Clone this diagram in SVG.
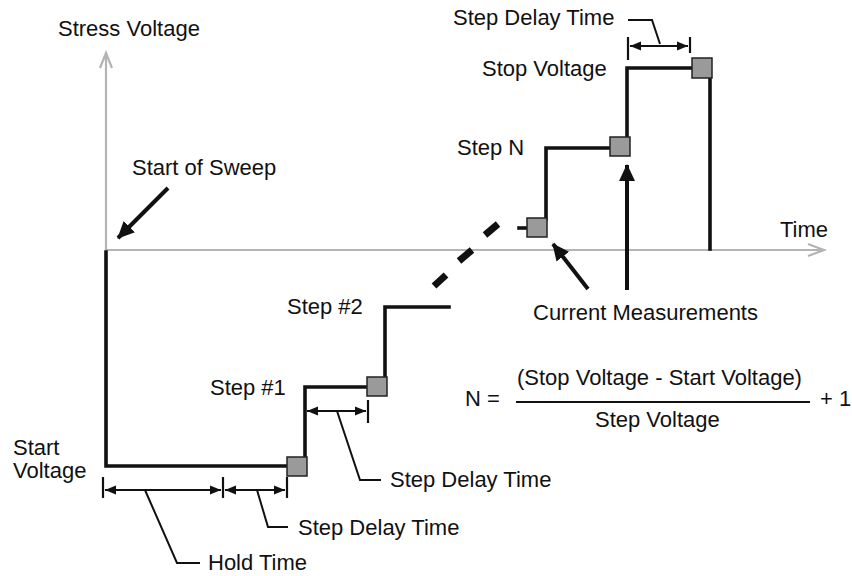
<svg xmlns="http://www.w3.org/2000/svg" width="852" height="576" viewBox="0 0 852 576">
<style>
text{font-family:"Liberation Sans",Arial,sans-serif;font-size:22px;fill:#111}
.axis{stroke:#b4b4b4;stroke-width:2.2;fill:none}
.trace{stroke:#111;stroke-width:3.6;fill:none;stroke-linecap:square}
.meas{fill:#9a9a9a;stroke:#222;stroke-width:1.5}
.dim{stroke:#111;stroke-width:2;fill:none}
.tick{stroke:#111;stroke-width:2.2}
.lead{stroke:#111;stroke-width:2;fill:none}
.big{stroke:#111;stroke-width:4;fill:none}
</style>
<defs>
<marker id="ah" markerUnits="userSpaceOnUse" markerWidth="12" markerHeight="10" refX="11" refY="5" orient="auto-start-reverse"><path d="M0,0.5 L11,5 L0,9.5 z" fill="#111"/></marker>
<marker id="bh" markerUnits="userSpaceOnUse" markerWidth="18" markerHeight="16" refX="16" refY="8" orient="auto"><path d="M0,0 L17,8 L0,16 z" fill="#111"/></marker>
</defs>
<g id="axes">
<line class="axis" x1="106" y1="250" x2="106" y2="55"/>
<polyline class="axis" points="100,68 106,53 112,68" stroke-width="1.6"/>
<line class="axis" x1="106" y1="250" x2="822" y2="250"/>
<polyline class="axis" points="808,244 824,250 808,256" stroke-width="1.6"/>
<text x="58" y="36">Stress Voltage</text>
<text x="780" y="237">Time</text>
</g>
<g id="trace">
<polyline class="trace" points="106,252 106,466 288,466"/>
<polyline class="trace" points="305,458 305,387 368,387"/>
<polyline class="trace" points="385,378 385,307 449,307"/>
<line class="trace" x1="519" y1="228" x2="526" y2="228"/>
<polyline class="trace" points="546,219 546,148 611,148"/>
<polyline class="trace" points="627,138 627,68 693,68"/>
<line class="trace" x1="710" y1="78" x2="710" y2="249"/>
<g stroke="#111" stroke-width="7">
<line x1="434" y1="286" x2="446" y2="275"/>
<line x1="459" y1="261" x2="472" y2="250"/>
<line x1="485" y1="235" x2="498" y2="224"/>
</g>
</g>
<g id="measurements">
<rect class="meas" x="287" y="457" width="20" height="19"/>
<rect class="meas" x="367" y="377" width="20" height="19"/>
<rect class="meas" x="527" y="218" width="20" height="19"/>
<rect class="meas" x="610" y="137" width="20" height="19"/>
<rect class="meas" x="692" y="58" width="20" height="20"/>
</g>
<g id="start-of-sweep">
<text x="132" y="175">Start of Sweep</text>
<line class="big" x1="168" y1="188" x2="118" y2="238" marker-end="url(#bh)"/>
</g>
<g id="current-measurements">
<text x="533" y="320">Current Measurements</text>
<line class="big" x1="588" y1="289" x2="553" y2="244" marker-end="url(#bh)"/>
<line class="big" x1="627" y1="290" x2="627" y2="165" marker-end="url(#bh)"/>
</g>
<g id="labels">
<text x="482" y="76">Stop Voltage</text>
<text x="457" y="155">Step N</text>
<text x="287" y="314">Step #2</text>
<text x="210" y="395">Step #1</text>
<text x="13" y="455">Start</text>
<text x="13" y="478">Voltage</text>
</g>
<g id="hold-time">
<line class="tick" x1="103" y1="477" x2="103" y2="498"/>
<line class="tick" x1="223" y1="477" x2="223" y2="498"/>
<line class="dim" x1="105" y1="490" x2="221" y2="490" marker-start="url(#ah)" marker-end="url(#ah)"/>
<polyline class="lead" points="145,490 177,563 200,563"/>
<text x="208" y="570">Hold Time</text>
</g>
<g id="step-delay-1">
<line class="tick" x1="287" y1="477" x2="287" y2="498"/>
<line class="dim" x1="225" y1="490" x2="285" y2="490" marker-start="url(#ah)" marker-end="url(#ah)"/>
<polyline class="lead" points="257,490 268,527 288,527"/>
<text x="298" y="535">Step Delay Time</text>
</g>
<g id="step-delay-2">
<line class="tick" x1="368" y1="400" x2="368" y2="423"/>
<line class="dim" x1="307" y1="411" x2="366" y2="411" marker-start="url(#ah)" marker-end="url(#ah)"/>
<polyline class="lead" points="337,411 360,480 381,480"/>
<text x="390" y="487">Step Delay Time</text>
</g>
<g id="step-delay-3">
<line class="tick" x1="628" y1="37" x2="628" y2="60"/>
<line class="tick" x1="690" y1="37" x2="690" y2="53"/>
<line class="dim" x1="630" y1="46" x2="688" y2="46" marker-start="url(#ah)" marker-end="url(#ah)"/>
<polyline class="lead" points="628,20 652,20 660,44"/>
<text x="453" y="25">Step Delay Time</text>
</g>
<g id="formula">
<text x="465" y="406">N =</text>
<text x="517" y="385">(Stop Voltage - Start Voltage)</text>
<line x1="516" y1="402" x2="810" y2="402" stroke="#111" stroke-width="2"/>
<text x="595" y="427">Step Voltage</text>
<text x="820" y="406">+ 1</text>
</g>
</svg>
